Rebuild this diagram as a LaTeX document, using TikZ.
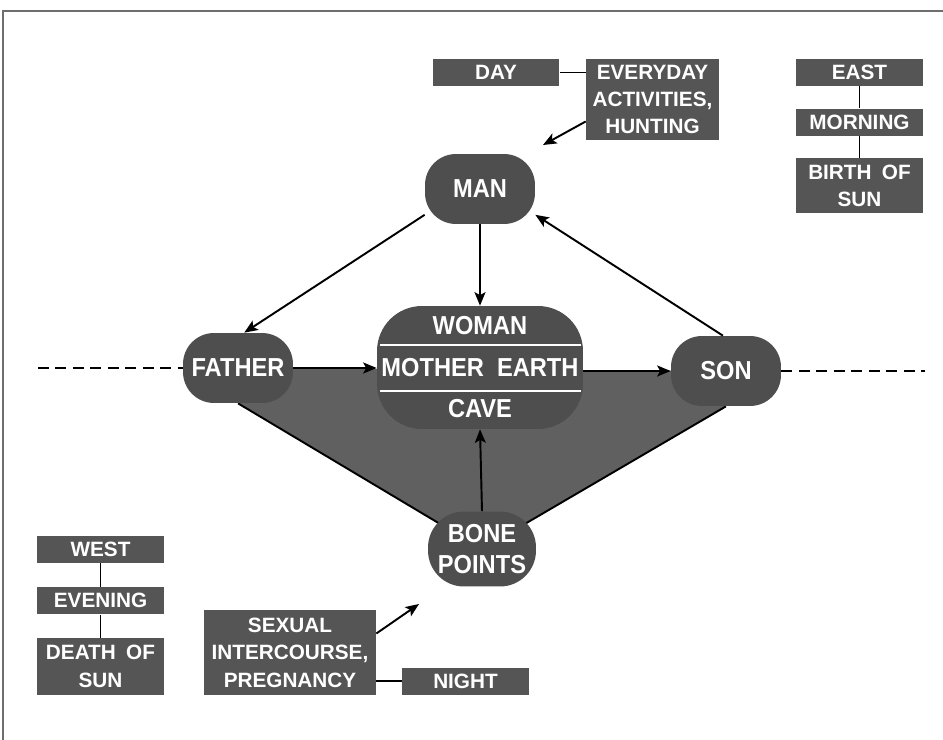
\documentclass[tikz,border=0pt]{standalone}
\usepackage{fontspec}
\setmainfont{Liberation Sans}
\newfontfamily\condfont[FakeStretch=0.91]{Liberation Sans}
\usetikzlibrary{positioning}
\usetikzlibrary{arrows.meta}
\usetikzlibrary{calc}
\usetikzlibrary{backgrounds}
\definecolor{boxgray}{RGB}{85,85,85}
\definecolor{blobgray}{RGB}{78,78,78}
\definecolor{wedgegray}{RGB}{96,96,96}
\definecolor{framegray}{RGB}{110,110,110}
\tikzset{>={Stealth[length=0.27cm,width=0.22cm,inset=0.06cm]}}
\tikzset{box/.style={fill=boxgray, text=white, align=center, inner sep=0pt, minimum width=2.54cm, minimum height=0.54cm, font=\bfseries\fontsize{11.8}{15.6}\selectfont}}
\tikzset{blob/.style={fill=blobgray, text=white, align=center, inner sep=0pt, rounded corners=0.62cm, minimum width=2.2cm, minimum height=1.4cm, font=\condfont\bfseries\fontsize{14.8}{18}\selectfont}}
\tikzset{blobtxt/.style={text=white, inner sep=0pt, font=\condfont\bfseries\fontsize{14.8}{18}\selectfont}}
\tikzset{ln/.style={line width=1.1pt}}

\begin{document}
\begin{tikzpicture}[x=0.02cm, y=-0.02cm]
\useasboundingbox (0,0) rectangle (943,740);
\draw[framegray, line width=0.6pt] (3,740) -- (3,11) -- (943,11);

% main figures
\node[blob] (man) at (480,189) {MAN};
\node[blob] (father) at (238,368) {FATHER};
\node[blob] (son) at (726,371) {SON};
\node[blob, minimum width=2.16cm, minimum height=1.5cm, rounded corners=0.72cm] (bone) at (482,549) {BONE\\POINTS};
\node[blob, minimum width=4.12cm, minimum height=2.46cm, rounded corners=0.9cm] (earth) at (480,367.5) {};

\node[blobtxt] (woman) at (480,326) {WOMAN};
\node[blobtxt] (mother) at (480,368) {MOTHER\enspace EARTH};
\node[blobtxt] (cave) at (480,409) {CAVE};
\draw[white, line width=1.2pt] (380,345) -- (581,345);
\draw[white, line width=1.2pt] (380,391) -- (581,391);

\begin{scope}[on background layer]
\fill[wedgegray] (father.center) -- (son.center) -- (son.south) -- (bone.center) -- (father.south) -- cycle;
\draw[ln] (father.south) -- (bone.center);
\draw[ln] (son.south) -- (bone.center);
\end{scope}

\coordinate (wl) at (38,368);
\coordinate (er) at (925,371);
\draw[ln, dash pattern=on 0.22cm off 0.13cm] (wl) -- (father.west);
\draw[ln, dash pattern=on 0.22cm off 0.13cm] (son.east) -- (er);

\draw[ln,->] (man.205) -- (father.80);
\draw[ln,->] (man.south) -- (earth.north);
\draw[ln,->] (son.95) -- (man.335);
\draw[ln,->] (father.east) -- (earth.west |- father.east);
\draw[ln,->] (earth.east |- son.west) -- (son.west);
\draw[ln,->] (bone.north) -- (earth.south);

% day
\node[box] (day) at (496,72.5) {DAY};
\node[box, minimum width=2.66cm, minimum height=1.62cm] (evd) at (652.5,99.5) {EVERYDAY\\ACTIVITIES,\\HUNTING};
\coordinate (dayarr) at (543,145);
\draw[ln] (day.east) -- (day.east -| evd.west);
\draw[ln,->] ([yshift=-0.44cm]evd.west) -- (dayarr);

% east
\node[box] (east) at (859.5,72.5) {EAST};
\node[box] (morn) [below=0.44cm of east] {MORNING};
\node[box, minimum height=1.1cm] (birth) [below=0.44cm of morn] {BIRTH\enspace OF\\SUN};
\draw[ln] (east) -- (morn);
\draw[ln] (morn) -- (birth);

% west
\node[box] (west) at (100.5,549.5) {WEST};
\node[box] (even) [below=0.47cm of west] {EVENING};
\node[box, minimum height=1.14cm] (death) [below=0.46cm of even] {DEATH\enspace OF\\SUN};
\draw[ln] (west) -- (even);
\draw[ln] (even) -- (death);

% night
\node[box, minimum width=3.44cm, minimum height=1.7cm] (sex) at (290,652.5) {SEXUAL\\INTERCOURSE,\\PREGNANCY};
\node[box] (night) at (465.5,681) {NIGHT};
\coordinate (nightarr) at (419,604);
\draw[ln] (night.west) -- (night.west -| sex.east);
\draw[ln,->] ([yshift=0.38cm]sex.east) -- (nightarr);

\end{tikzpicture}
\end{document}
